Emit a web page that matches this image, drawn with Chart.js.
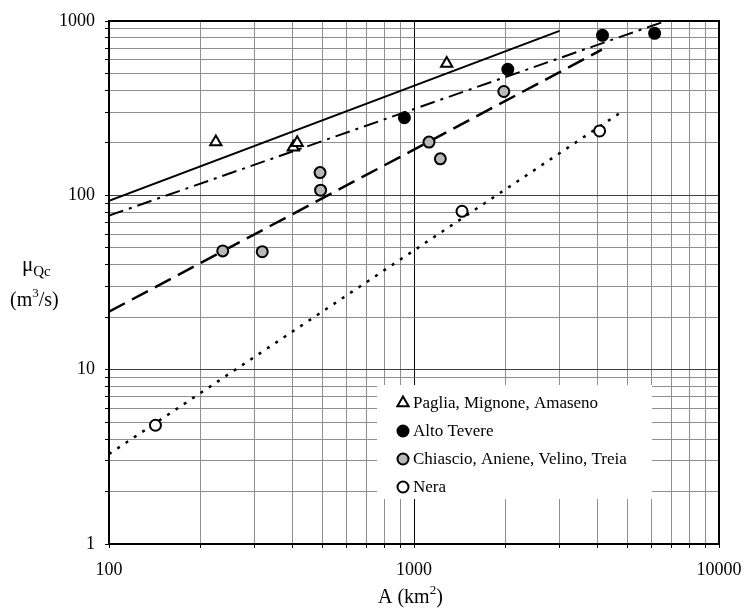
<!DOCTYPE html>
<html lang="it">
<head>
<meta charset="utf-8">
<title>Portata media al colmo e area del bacino</title>
<script src="https://cdn.jsdelivr.net/npm/chart.js@4.4.1/dist/chart.umd.min.js"></script>
<style>
  html, body { margin: 0; padding: 0; background: #fff; }
  canvas { display: block; }
</style>
</head>
<body>
<canvas id="grafico" width="744" height="608"></canvas>
<script>
// Osservazioni per gruppo di bacini: area A (km2) e portata mu_Qc (m3/s)
const pagliaA = [224, 402, 414, 1280];
const pagliaQ = [202, 189, 200, 570];

const tevereA = [930, 2030, 4150, 6150];
const tevereQ = [279, 528, 828, 850];

const chiascioA = [236, 318, 492, 494, 1120, 1220, 1970];
const chiascioQ = [48, 47.5, 135, 107, 202, 162, 394];

const neraA = [142, 1437, 4060];
const neraQ = [4.8, 81, 234];

// Rette di regressione: estremi dei segmenti
const rettaPagliaA = [100, 3000];
const rettaPagliaQ = [93, 877];
const rettaTevereA = [100, 6800];
const rettaTevereQ = [76.5, 1010];
const rettaChiascioA = [100, 4130];
const rettaChiascioQ = [21.5, 685];
const rettaNeraA = [100, 4870];
const rettaNeraQ = [3.28, 307];

// Griglia logaritmica ed etichette degli assi
const grigliaX = [100, 200, 300, 400, 500, 600, 700, 800, 900,
                  1000, 2000, 3000, 4000, 5000, 6000, 7000, 8000, 9000, 10000];
const grigliaY = [1, 2, 3, 4, 5, 6, 7, 8, 9,
                  10, 20, 30, 40, 50, 60, 70, 80, 90,
                  100, 200, 300, 400, 500, 600, 700, 800, 900, 1000];
const etichetteX = [100, 1000, 10000];
const etichetteY = [1, 10, 100, 1000];

const FONT = '"Liberation Serif", "Times New Roman", serif';

function punti(xs, ys) {
  return xs.map((x, i) => ({ x: x, y: ys[i] }));
}

// Legenda dentro l'area del grafico, su fondo bianco
const legendaInterna = {
  id: 'legendaInterna',
  beforeDatasetsDraw(chart) {
    const ctx = chart.ctx;
    ctx.save();
    ctx.fillStyle = '#fff';
    ctx.fillRect(377, 385, 275, 114);
    ctx.font = '17px ' + FONT;
    ctx.textBaseline = 'middle';
    ctx.textAlign = 'left';
    chart.data.datasets.slice(0, 4).forEach((ds, i) => {
      const y = 403 + i * 28;
      ctx.fillStyle = ds.backgroundColor;
      ctx.strokeStyle = ds.borderColor;
      ctx.lineWidth = ds.borderWidth;
      Chart.helpers.drawPoint(ctx, {
        pointStyle: ds.pointStyle,
        radius: ds.pointRadius,
        rotation: 0,
        borderWidth: ds.borderWidth
      }, 403, y);
      ctx.fillStyle = '#000';
      ctx.fillText(ds.label, 413, y + 1);
    });
    ctx.restore();
  }
};

// Cornice e titoli degli assi (con pedici e apici)
const titoliAssi = {
  id: 'titoliAssi',
  afterDraw(chart) {
    const ctx = chart.ctx;
    const a = chart.chartArea;
    ctx.save();
    ctx.strokeStyle = '#000';
    ctx.lineWidth = 2;
    ctx.beginPath();
    ctx.moveTo(a.left, a.top);
    ctx.lineTo(a.right, a.top);
    ctx.lineTo(a.right, a.bottom);
    ctx.stroke();

    ctx.fillStyle = '#000';
    ctx.textBaseline = 'alphabetic';
    ctx.textAlign = 'left';

    // mu_Qc
    ctx.font = '21px ' + FONT;
    ctx.fillText('μ', 22, 271);
    const wMu = ctx.measureText('μ').width;
    ctx.font = '15px ' + FONT;
    ctx.fillText('Qc', 22 + wMu, 276);

    // (m3/s)
    let x = 10;
    ctx.font = '20px ' + FONT;
    ctx.fillText('(m', x, 306);
    x += ctx.measureText('(m').width;
    ctx.font = '13px ' + FONT;
    ctx.fillText('3', x, 297);
    x += ctx.measureText('3').width;
    ctx.font = '20px ' + FONT;
    ctx.fillText('/s)', x, 306);

    // A (km2)
    x = 378;
    ctx.font = '20px ' + FONT;
    ctx.fillText('A (km', x, 603);
    x += ctx.measureText('A (km').width;
    ctx.font = '13px ' + FONT;
    ctx.fillText('2', x, 594);
    x += ctx.measureText('2').width;
    ctx.font = '20px ' + FONT;
    ctx.fillText(')', x, 603);
    ctx.restore();
  }
};

function stileRetta(xs, ys, dash, width) {
  return {
    data: punti(xs, ys),
    showLine: true,
    borderColor: '#000',
    borderWidth: width,
    borderDash: dash,
    pointRadius: 0,
    fill: false
  };
}

new Chart(document.getElementById('grafico'), {
  type: 'scatter',
  data: {
    datasets: [
      {
        label: 'Paglia, Mignone, Amaseno',
        data: punti(pagliaA, pagliaQ),
        pointStyle: 'triangle',
        pointRadius: 6.5,
        backgroundColor: '#fff',
        borderColor: '#000',
        borderWidth: 2
      },
      {
        label: 'Alto Tevere',
        data: punti(tevereA, tevereQ),
        pointStyle: 'circle',
        pointRadius: 5.5,
        backgroundColor: '#000',
        borderColor: '#000',
        borderWidth: 2
      },
      {
        label: 'Chiascio, Aniene, Velino, Treia',
        data: punti(chiascioA, chiascioQ),
        pointStyle: 'circle',
        pointRadius: 5.5,
        backgroundColor: '#b8b8b8',
        borderColor: '#000',
        borderWidth: 2
      },
      {
        label: 'Nera',
        data: punti(neraA, neraQ),
        pointStyle: 'circle',
        pointRadius: 5.5,
        backgroundColor: '#fff',
        borderColor: '#000',
        borderWidth: 2
      },
      stileRetta(rettaPagliaA, rettaPagliaQ, [], 2),
      stileRetta(rettaTevereA, rettaTevereQ, [15, 6, 3, 6], 2),
      stileRetta(rettaChiascioA, rettaChiascioQ, [18, 8], 2.5),
      stileRetta(rettaNeraA, rettaNeraQ, [3, 7], 2.5)
    ]
  },
  options: {
    responsive: false,
    animation: false,
    layout: { padding: { top: 21, right: 25, left: 0, bottom: 0 } },
    plugins: {
      legend: { display: false },
      tooltip: { enabled: false }
    },
    scales: {
      x: {
        type: 'logarithmic',
        min: 100,
        max: 10000,
        afterBuildTicks: s => { s.ticks = grigliaX.map(v => ({ value: v })); },
        afterFit: s => { s.height = 64; s.paddingLeft = 0; s.paddingRight = 0; },
        ticks: {
          autoSkip: false,
          maxRotation: 0,
          padding: 11,
          color: '#000',
          font: { family: FONT, size: 18 },
          callback: v => etichetteX.includes(v) ? String(v) : ''
        },
        grid: {
          color: c => c.tick && c.tick.value === 1000 ? '#000' : '#8f8f8f',
          lineWidth: 1,
          tickColor: '#000',
          tickLength: 4
        },
        border: { color: '#000', width: 2 }
      },
      y: {
        type: 'logarithmic',
        min: 1,
        max: 1000,
        afterBuildTicks: s => { s.ticks = grigliaY.map(v => ({ value: v })); },
        afterFit: s => { s.width = 109; s.paddingTop = 0; s.paddingBottom = 0; },
        ticks: {
          autoSkip: false,
          padding: 10,
          color: '#000',
          font: { family: FONT, size: 18 },
          callback: v => etichetteY.includes(v) ? String(v) : ''
        },
        grid: {
          color: c => c.tick && (c.tick.value === 10 || c.tick.value === 100) ? '#404040' : '#8f8f8f',
          lineWidth: 1,
          tickColor: '#000',
          tickLength: 4
        },
        border: { color: '#000', width: 2 }
      }
    }
  },
  plugins: [legendaInterna, titoliAssi]
});
</script>
</body>
</html>
